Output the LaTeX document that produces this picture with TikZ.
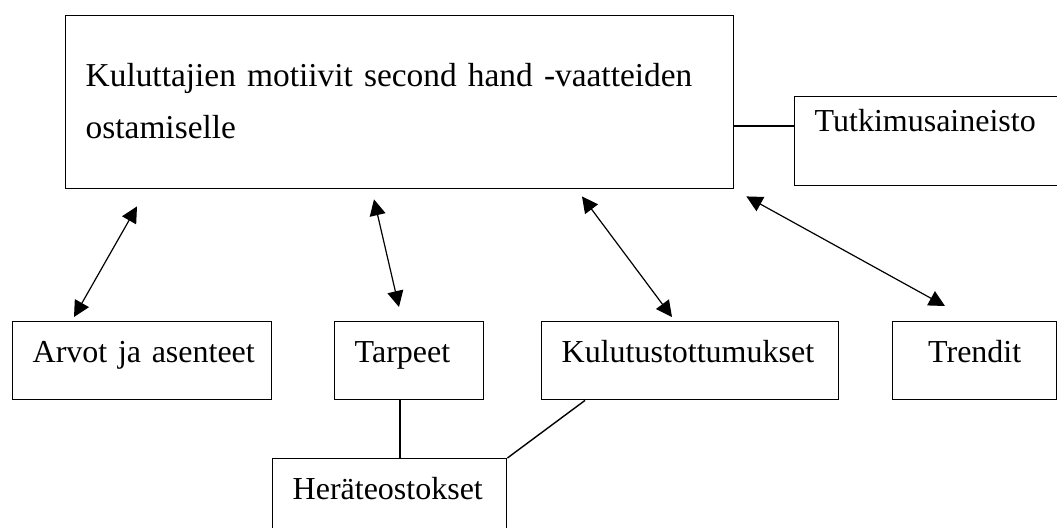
\documentclass[tikz,border=0pt]{standalone}
\usepackage{fontspec}
\setmainfont{Liberation Serif}
\usetikzlibrary{arrows.meta,calc}

\begin{document}
\begin{tikzpicture}[x=0.5pt,y=-0.5pt,line width=0.7pt,font=\fontsize{16}{26}\selectfont,
  box/.style={draw,anchor=north west,inner xsep=10pt,inner ysep=0pt,
    text height=20.5pt,text depth=18.5pt,align=left},
  link/.style={line width=0.6pt,{Triangle[length=8pt,width=8pt]}-{Triangle[length=8pt,width=8pt]}}]

\clip (0,0) rectangle (1057,527);

\node[box,text width=314pt,text height=35.5pt,text depth=51pt,
  font=\fontsize{16.7}{26}\selectfont] (main) at (65,15)
  {Kuluttajien motiivit second hand -vaatteiden\\ostamiselle};
\node[box,text width=120pt,text height=17.5pt,text depth=27pt] (tutk) at (794,96)
  {Tutkimusaineisto};

\foreach \nm/\xs/\bw/\al/\txt in {%
  arvot/12/109.5/left/{Arvot ja asenteet},
  tarpeet/334/54.5/left/{Tarpeet},
  kulutus/541/128.5/left/{Kulutustottumukset},
  trendit/892/62/center/{Trendit}}{%
  \node[box,text width=\bw pt,align=\al] (\nm) at (\xs,321) {\mbox{\txt}};
}
\node[box,text width=97pt] (herate) at (272,458) {Heräteostokset};

% main box to the material box
\coordinate (tj) at ($(tutk.north west)+(0,30)$);
\draw (tj -| main.east) -- (tj);

% two-way arrows from the main box down to the factors
\draw[link] ($(main.south west)+(72,17)$) -- ($(arvot.north west)+(62,-4)$);
\draw[link] ($(main.south west)+(309,10)$) -- ($(tarpeet.north west)+(65,-14)$);
\draw[link] ($(main.south west)+(517,7)$) -- ($(kulutus.north west)+(131,-4)$);
\draw[link] ($(main.south east)+(12,7)$) -- ($(trendit.north west)+(53,-15)$);

% impulse purchases
\coordinate (tl) at ($(tarpeet.south west)+(66,0)$);
\draw (tl) -- (tl |- herate.north);
\draw ($(kulutus.south west)+(44,0)$) -- (herate.north east);

\end{tikzpicture}
\end{document}
